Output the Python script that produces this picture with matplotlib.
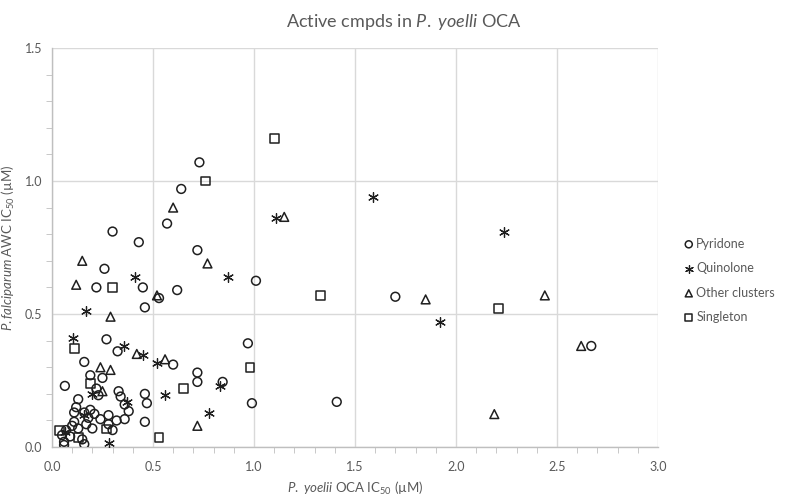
import matplotlib
matplotlib.use("Agg")
import matplotlib.pyplot as plt

# Valeurs (IC50 en µM)
pyridone_x = [0.73, 0.64, 0.57, 0.30, 0.43, 0.72, 0.26, 0.22, 0.45, 0.62, 1.01, 0.53,
              0.46, 0.27, 0.325, 0.60, 0.16, 0.19, 0.25, 0.064, 0.22, 0.23, 0.33, 0.34,
              0.38, 0.36, 0.13, 0.12, 0.11, 0.19, 0.16, 0.21, 0.28, 0.18, 0.24, 0.32,
              0.36, 0.17, 0.20, 0.11, 0.10, 0.07, 0.13, 0.28, 0.30, 0.09, 0.05, 0.06,
              0.06, 0.15, 0.16, 0.46, 0.47, 0.46, 0.72, 0.72, 0.845, 0.97, 0.99, 1.41,
              1.70, 2.67]
pyridone_y = [1.07, 0.97, 0.84, 0.81, 0.77, 0.74, 0.67, 0.60, 0.60, 0.59, 0.625, 0.56,
              0.525, 0.405, 0.36, 0.31, 0.32, 0.27, 0.26, 0.23, 0.22, 0.195, 0.21, 0.19,
              0.135, 0.16, 0.18, 0.15, 0.13, 0.14, 0.13, 0.125, 0.12, 0.11, 0.105, 0.10,
              0.105, 0.086, 0.07, 0.095, 0.08, 0.064, 0.07, 0.086, 0.064, 0.04, 0.045, 0.02,
              0.008, 0.029, 0.011, 0.20, 0.165, 0.095, 0.28, 0.245, 0.245, 0.39, 0.165, 0.17,
              0.565, 0.38]

quinolone_x = [0.41, 0.87, 0.17, 0.105, 0.355, 0.45, 0.52, 0.20, 0.37, 0.16, 0.064,
               0.28, 0.56, 0.83, 0.78, 1.11, 1.59, 1.92, 2.24]
quinolone_y = [0.64, 0.64, 0.51, 0.41, 0.38, 0.345, 0.315, 0.20, 0.17, 0.12, 0.058,
               0.014, 0.195, 0.23, 0.127, 0.86, 0.94, 0.47, 0.81]

other_x = [0.60, 0.15, 0.77, 0.12, 0.52, 0.29, 0.42, 0.56, 0.24, 0.29, 0.25, 0.72,
           1.15, 1.85, 2.44, 2.62, 2.19]
other_y = [0.90, 0.70, 0.69, 0.61, 0.57, 0.49, 0.35, 0.33, 0.30, 0.29, 0.21, 0.08,
           0.865, 0.555, 0.57, 0.38, 0.124]

singleton_x = [0.76, 0.30, 0.11, 0.19, 0.27, 0.036, 0.13, 0.53, 0.65, 0.98, 1.10, 1.33, 2.21]
singleton_y = [1.00, 0.60, 0.37, 0.24, 0.068, 0.061, 0.035, 0.035, 0.22, 0.30, 1.16, 0.57, 0.52]

TEXT = "#595959"
plt.rcParams["font.family"] = ["Lato", "DejaVu Sans"]
plt.rcParams["mathtext.fontset"] = "custom"
plt.rcParams["mathtext.rm"] = "Lato"
plt.rcParams["mathtext.it"] = "Lato:italic"

fig = plt.figure(figsize=(7.87, 4.99), dpi=100)
ax = fig.add_axes([0.066, 0.104, 0.770, 0.800])

mk = dict(facecolors="none", edgecolors="#1f1f1f", linewidths=1.1, s=40, zorder=3)
ax.scatter(pyridone_x, pyridone_y, marker="o", label="Pyridone", **mk)
ax.scatter(quinolone_x, quinolone_y, marker=(6, 2, 0), c="#1f1f1f", s=50,
           linewidths=0.9, zorder=3, label="Quinolone")
ax.scatter(other_x, other_y, marker="^", label="Other clusters", **mk)
ax.scatter(singleton_x, singleton_y, marker="s", label="Singleton", **mk)

ax.set_xlim(0, 3.0)
ax.set_ylim(0, 1.5)
ax.set_xticks([0.0, 0.5, 1.0, 1.5, 2.0, 2.5, 3.0])
ax.set_yticks([0.0, 0.5, 1.0, 1.5])
ax.set_xticks([i / 10 for i in range(31)], minor=True)
ax.set_yticks([i / 10 for i in range(16)], minor=True)
ax.xaxis.set_major_formatter(matplotlib.ticker.FormatStrFormatter("%.1f"))
ax.yaxis.set_major_formatter(matplotlib.ticker.FormatStrFormatter("%.1f"))
ax.grid(True, which="major", color="#d9d9d9", linewidth=1.0, zorder=0)
ax.tick_params(which="both", direction="out", color="#bfbfbf", labelcolor=TEXT,
               labelsize=9)
ax.tick_params(which="major", length=0)
ax.tick_params(axis="x", which="major", pad=10)
ax.tick_params(axis="y", which="major", pad=7)
ax.tick_params(which="minor", length=4)
for side in ["top", "right"]:
    ax.spines[side].set_visible(False)
for side in ["left", "bottom"]:
    ax.spines[side].set_color("#bfbfbf")
    ax.spines[side].set_linewidth(1.0)

fig.suptitle(r"Active cmpds in $\it{P.}$ $\it{yoelli}$ OCA", color=TEXT, fontsize=13,
             x=0.513, y=0.975)
ax.set_xlabel(r"$\it{P.}$ $\it{yoelii}$ OCA IC$_{50}$ (µM)", color=TEXT, fontsize=9.5)
ax.set_ylabel(r"$\it{P.falciparum}$ AWC IC$_{50}$ (µM)", color=TEXT, fontsize=9.5)
ax.xaxis.set_label_coords(0.5, -0.083)
ax.yaxis.set_label_coords(-0.057, 0.5)

leg = ax.legend(loc="upper left", bbox_to_anchor=(1.022, 0.553), frameon=False,
                fontsize=9, labelspacing=1.0, handletextpad=0.1, handlelength=1.0,
                markerscale=0.8)
for t in leg.get_texts():
    t.set_color(TEXT)

fig.savefig("out.png", dpi=100)
